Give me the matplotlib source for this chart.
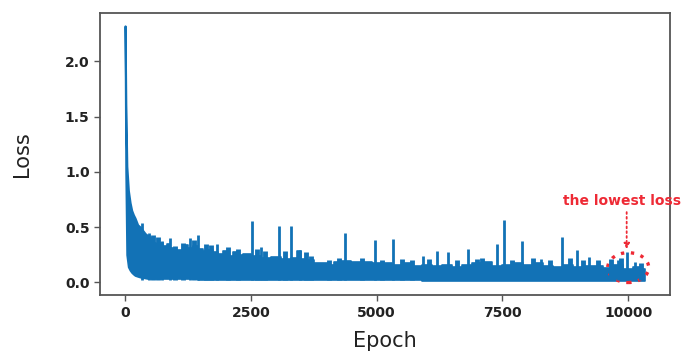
import matplotlib
matplotlib.use('Agg')
import matplotlib.pyplot as plt
from matplotlib.patches import Ellipse

# band of the noisy loss curve (epoch, upper edge, lower edge)
env_epoch = [0, 15, 35, 66, 100, 132, 166, 199, 250, 300, 350, 400, 458, 520, 580,
             656, 720, 800, 854, 920, 1000, 1100, 1200, 1300, 1400, 1500, 1600, 1700,
             1800, 1900, 2000, 2100, 2200, 2300, 2400, 2600, 2800, 3000, 3200, 3400,
             3450, 3550, 3700, 3800, 3900, 4000, 4100, 4200, 4400, 4600, 4800, 5000,
             5200, 5400, 5600, 5800, 6000, 6200, 6400, 6600, 6800, 7000, 7200, 7400,
             7600, 7800, 8000, 8200, 8400, 8600, 8800, 9000, 9200, 9400, 9600, 9800,
             10000, 10200, 10333]
env_upper = [2.32, 1.60, 1.05, 0.83, 0.72, 0.65, 0.61, 0.58, 0.52, 0.50, 0.47, 0.44,
             0.42, 0.40, 0.36, 0.35, 0.36, 0.33, 0.35, 0.31, 0.29, 0.29, 0.34, 0.31,
             0.33, 0.30, 0.28, 0.29, 0.27, 0.26, 0.28, 0.24, 0.27, 0.25, 0.26, 0.24,
             0.22, 0.23, 0.21, 0.22, 0.28, 0.21, 0.20, 0.17, 0.17, 0.17, 0.16, 0.18,
             0.19, 0.18, 0.18, 0.17, 0.17, 0.16, 0.17, 0.15, 0.16, 0.15, 0.16, 0.14,
             0.16, 0.17, 0.18, 0.15, 0.16, 0.17, 0.16, 0.17, 0.15, 0.14, 0.16, 0.14,
             0.15, 0.15, 0.13, 0.16, 0.12, 0.14, 0.12]
env_lower = [2.32, 1.00, 0.25, 0.14, 0.11, 0.09, 0.075, 0.063, 0.055, 0.048, 0.045,
             0.040, 0.035, 0.034, 0.033, 0.032, 0.031, 0.030, 0.030, 0.029, 0.028,
             0.027, 0.027, 0.026, 0.026, 0.025, 0.025, 0.024, 0.024, 0.023, 0.023,
             0.023, 0.022, 0.022, 0.022, 0.021, 0.021, 0.021, 0.020, 0.020, 0.020,
             0.020, 0.019, 0.019, 0.019, 0.019, 0.019, 0.018, 0.018, 0.018, 0.018,
             0.018, 0.017, 0.017, 0.017, 0.017, 0.016, 0.016, 0.016, 0.016, 0.016,
             0.015, 0.015, 0.015, 0.015, 0.015, 0.014, 0.014, 0.014, 0.014, 0.014,
             0.013, 0.013, 0.013, 0.013, 0.013, 0.012, 0.012, 0.012]

# tall isolated spikes above the band
spike_epoch = [344, 483, 729, 894, 1292, 1457, 1822, 2530, 2696, 3060, 3292, 3477,
               4371, 4967, 5331, 5928, 6206, 6425, 6809, 7398, 7531, 7882, 8266,
               8677, 8975, 9226, 9802, 9969, 10134]
spike_loss = [0.54, 0.45, 0.37, 0.40, 0.40, 0.43, 0.35, 0.555, 0.32, 0.51, 0.51, 0.29,
              0.45, 0.385, 0.39, 0.24, 0.28, 0.27, 0.30, 0.35, 0.567, 0.375, 0.21,
              0.41, 0.29, 0.23, 0.20, 0.275, 0.18]

# small bumps on top of the band
bump_epoch = [560, 650, 1000, 1150, 1380, 1600, 1700, 2050, 2250, 2620, 2780, 3180,
              3600, 3700, 4050, 4250, 4700, 5100, 5500, 5700, 6050, 6600, 7000, 7100,
              7700, 8100, 8450, 8850, 9100, 9400, 9650, 9850, 10250]
bump_loss = [0.43, 0.41, 0.33, 0.36, 0.38, 0.35, 0.34, 0.32, 0.30, 0.30, 0.28, 0.28,
             0.27, 0.24, 0.20, 0.22, 0.22, 0.20, 0.21, 0.20, 0.21, 0.20, 0.21, 0.22,
             0.20, 0.22, 0.20, 0.22, 0.20, 0.20, 0.21, 0.22, 0.17]

# marked point
low_epoch = 9969
low_loss = 0.275

blue = '#1272b6'
red = '#ee2a35'

fig = plt.figure(figsize=(6.9, 3.53), dpi=100)
ax = fig.add_axes([0.145, 0.164, 0.826, 0.799])

# smooth initial drop, then the jagged plateau
k = env_epoch.index(458) + 1
ax.fill_between(env_epoch[:k], env_lower[:k], env_upper[:k], color=blue, lw=1.5,
                edgecolor=blue)
ax.fill_between(env_epoch[k - 1:], env_lower[k - 1:], env_upper[k - 1:], color=blue,
                lw=1.2, edgecolor=blue, step='mid')
ax.vlines(bump_epoch, 0.02, bump_loss, color=blue, lw=3.5)
ax.vlines(spike_epoch, 0.02, spike_loss, color=blue, lw=2)

ax.set_xlim(-497, 10830)
ax.set_ylim(-0.116, 2.436)
ax.set_xticks([0, 2500, 5000, 7500, 10000])
ax.set_yticks([0.0, 0.5, 1.0, 1.5, 2.0])
ax.set_yticklabels(['0.0', '0.5', '1.0', '1.5', '2.0'])

for lab in ax.get_xticklabels() + ax.get_yticklabels():
    lab.set_fontweight('bold')
    lab.set_fontsize(10)
    lab.set_color('#222222')
ax.tick_params(color='#555555', length=4, width=1)
for sp in ax.spines.values():
    sp.set_color('#555555')
    sp.set_linewidth(1.3)

ax.set_xlabel('Epoch', fontsize=15, color='#222222', labelpad=8)
ax.set_ylabel('Loss', fontsize=15, color='#222222', labelpad=24)

# annotation of the lowest loss
ax.add_patch(Ellipse((10000, 0.133), 815, 0.27, fill=False, edgecolor=red,
                     linestyle=(0, (1, 2)), lw=2.4, clip_on=False))
ax.annotate('', xy=(low_epoch, low_loss), xytext=(low_epoch, 0.66),
            arrowprops=dict(arrowstyle='-|>', color=red, lw=1.3, linestyle=':',
                            mutation_scale=8))
ax.text(8700, 0.733, 'the lowest loss', color=red, fontsize=10, fontweight='bold',
        ha='left', va='center', clip_on=False)

plt.savefig('out.png', dpi=100)
